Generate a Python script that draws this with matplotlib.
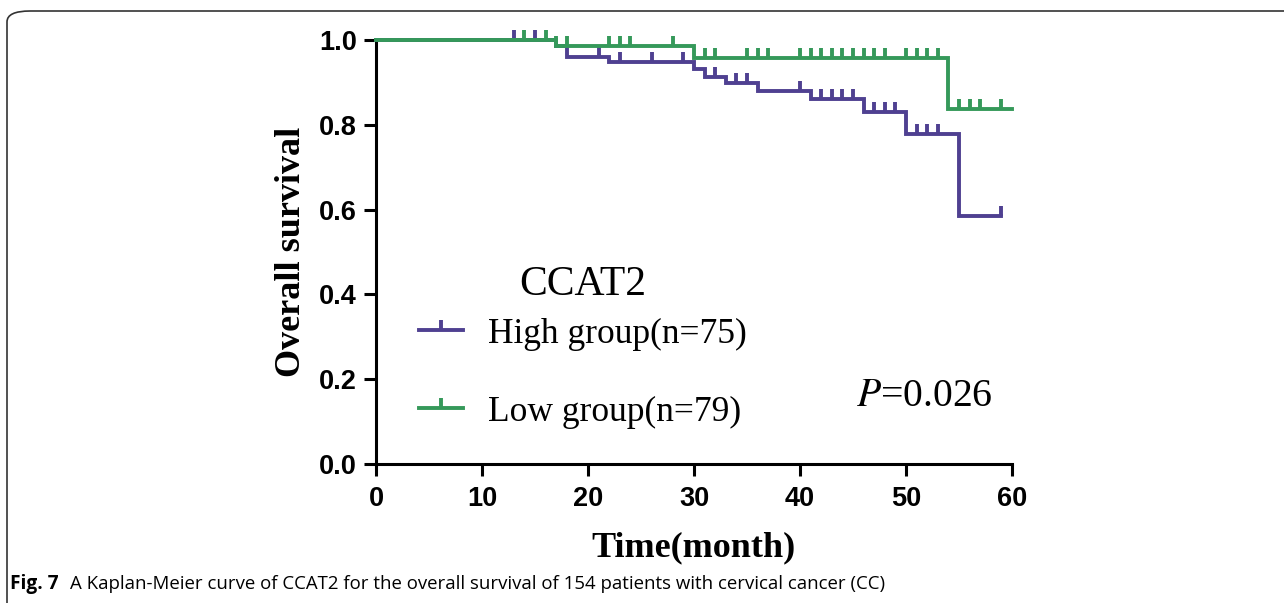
import numpy as np
import matplotlib
matplotlib.use('Agg')
import matplotlib.pyplot as plt
from matplotlib.lines import Line2D
from matplotlib.patches import FancyBboxPatch

# step curves (time in months, survival level after the step)
high_t = [0, 17, 18, 22, 30, 31, 33, 36, 41, 46, 50, 55]
high_s = [1.0, 0.987, 0.960, 0.947, 0.932, 0.913, 0.898, 0.880, 0.860, 0.831, 0.779, 0.584]
high_end = 59
high_cens = [13, 15, 21, 23, 26, 29, 32, 34, 35, 40, 42, 43, 44, 45, 47, 48, 49, 51, 52, 53, 59]

low_t = [0, 17, 30, 54]
low_s = [1.0, 0.987, 0.957, 0.837]
low_end = 60
low_cens = [14, 16, 17, 18, 22, 23, 24, 28, 31, 32, 35, 36, 37, 40, 41, 42, 43, 44, 45,
            46, 47, 48, 50, 51, 52, 53, 55, 56, 57, 59]

purple = '#4f4091'
green = '#35995a'
lw = 2.8


def level_at(ts, ss, x):
    i = np.searchsorted(ts, x, side='right') - 1
    return ss[i]


fig = plt.figure(figsize=(12.84, 6.03), dpi=100)
ax = fig.add_axes([376/1284, 139/603, 636/1284, 424/603])

for ts, ss, end, cens, col in [(high_t, high_s, high_end, high_cens, purple),
                                (low_t, low_s, low_end, low_cens, green)]:
    ax.step(ts + [end], ss + [ss[-1]], where='post', color=col, lw=lw,
            clip_on=False, zorder=3, solid_joinstyle='miter')
    cy = [level_at(ts, ss, c) for c in cens]
    ax.plot(cens, cy, ls='none', marker=2, ms=7.5, mew=lw, color=col,
            clip_on=False, zorder=3)

ax.set_xlim(0, 60)
ax.set_ylim(0, 1)
ax.set_xticks(np.arange(0, 61, 10))
ax.set_yticks(np.arange(0, 1.01, 0.2))
ax.set_yticklabels(['0.0', '0.2', '0.4', '0.6', '0.8', '1.0'])
for s in ['top', 'right']:
    ax.spines[s].set_visible(False)
for s in ['left', 'bottom']:
    ax.spines[s].set_linewidth(2.2)
ax.tick_params(length=8.6, width=2.2, direction='out', labelsize=19.5)
ax.tick_params(axis='y', pad=5)
ax.tick_params(axis='x', pad=7)
for lab in ax.get_xticklabels() + ax.get_yticklabels():
    lab.set_fontfamily('Liberation Sans')
    lab.set_fontweight('bold')

ax.set_xlabel('Time(month)', fontfamily='Liberation Serif', fontweight='bold',
              fontsize=26, labelpad=14)
ax.set_ylabel('Overall survival', fontfamily='Liberation Serif', fontweight='bold',
              fontsize=26, labelpad=8)

handles = [Line2D([], [], color=purple, lw=lw, marker=2, ms=7.5, mew=lw),
           Line2D([], [], color=green, lw=lw, marker=2, ms=7.5, mew=lw)]
leg = ax.legend(handles, ['High group(n=75)', 'Low group(n=79)'],
                frameon=False, loc='upper left',
                bbox_to_anchor=(401/1284, 1 - 300/603), bbox_transform=fig.transFigure,
                prop={'family': 'Liberation Serif', 'size': 25.5},
                handlelength=1.25, handletextpad=0.7, labelspacing=1.27,
                borderpad=0, numpoints=1)

ax.text(583/1284, 1 - 285/603, 'CCAT2', transform=fig.transFigure, ha='center',
        va='center', fontfamily='Liberation Serif', fontsize=30)

plt.rcParams['mathtext.fontset'] = 'stix'
ax.text(0.755, 0.16, r'$P$=0.026', transform=ax.transAxes, va='center', ha='left',
        fontfamily='Liberation Serif', fontsize=28.5)

# caption
fig.text(10/1284, 1 - 584/603, 'Fig. 7', fontfamily='Open Sans', fontweight='bold',
         fontsize=13.8, va='center', ha='left')
fig.text(70/1284, 1 - 584/603,
         'A Kaplan-Meier curve of CCAT2 for the overall survival of 154 patients with cervical cancer (CC)',
         fontfamily='Open Sans', fontsize=13.4, va='center', ha='left')

# article figure frame
frame = FancyBboxPatch((7/1284, -20/603), 1.2, (603 - 11 + 20)/603,
                       boxstyle='round,pad=0,rounding_size=0.018',
                       transform=fig.transFigure, fill=False, ec='#333333', lw=1.2,
                       clip_on=False)
fig.patches.append(frame)

fig.savefig('out.png', dpi=100)
